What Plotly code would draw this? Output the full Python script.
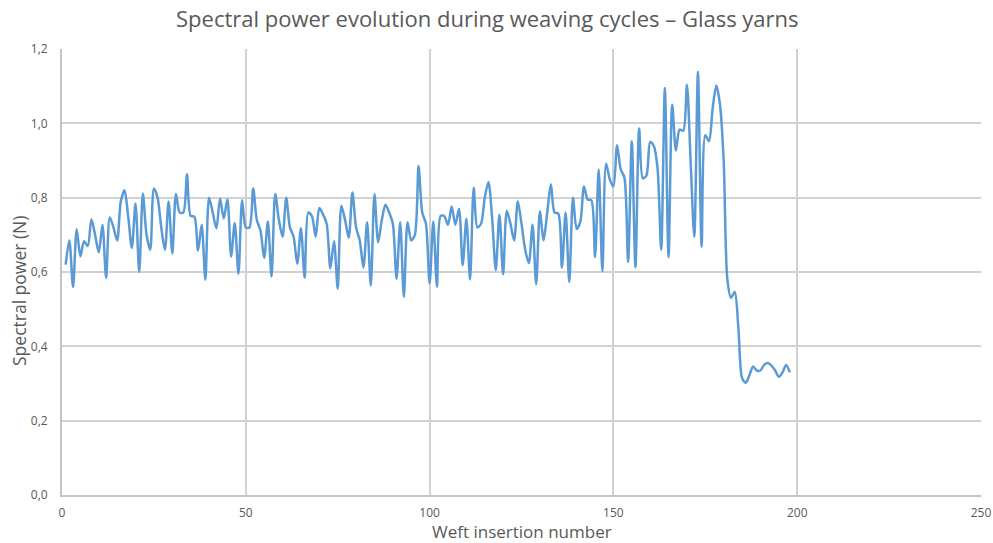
import plotly.graph_objects as go

x_values = list(range(1, 199))
spectral_power = [
    0.62, 0.685, 0.56, 0.715, 0.642, 0.683, 0.67, 0.742, 0.70, 0.653,
    0.727, 0.584, 0.747, 0.72, 0.685, 0.79, 0.82, 0.75, 0.665, 0.784,
    0.60, 0.811, 0.70, 0.66, 0.825, 0.80, 0.72, 0.66, 0.79, 0.65,
    0.81, 0.76, 0.76, 0.863, 0.751, 0.749, 0.658, 0.727, 0.579, 0.80,
    0.76, 0.718, 0.798, 0.744, 0.796, 0.642, 0.732, 0.595, 0.793, 0.72,
    0.72, 0.825, 0.74, 0.711, 0.638, 0.736, 0.588, 0.81, 0.74, 0.695,
    0.80, 0.72, 0.695, 0.622, 0.718, 0.585, 0.76, 0.75, 0.695, 0.772,
    0.755, 0.73, 0.61, 0.683, 0.555, 0.778, 0.74, 0.692, 0.814, 0.72,
    0.685, 0.612, 0.734, 0.564, 0.809, 0.68, 0.74, 0.781, 0.76, 0.73,
    0.582, 0.734, 0.533, 0.734, 0.685, 0.70, 0.885, 0.76, 0.73, 0.569,
    0.736, 0.56, 0.751, 0.75, 0.727, 0.776, 0.727, 0.77, 0.618, 0.743,
    0.58, 0.827, 0.72, 0.73, 0.80, 0.842, 0.747, 0.605, 0.754, 0.594,
    0.765, 0.73, 0.685, 0.79, 0.73, 0.66, 0.624, 0.727, 0.567, 0.763,
    0.685, 0.76, 0.836, 0.76, 0.757, 0.612, 0.76, 0.573, 0.80, 0.716,
    0.735, 0.83, 0.795, 0.793, 0.64, 0.876, 0.602, 0.891, 0.85, 0.83,
    0.941, 0.876, 0.854, 0.627, 0.952, 0.613, 0.986, 0.852, 0.86, 0.95,
    0.939, 0.88, 0.66, 1.095, 0.64, 1.05, 0.927, 0.983, 0.98, 1.104,
    0.90, 0.695, 1.139, 0.668, 0.968, 0.952, 1.04, 1.102, 1.05, 0.90,
    0.58, 0.531, 0.546, 0.45, 0.315, 0.302, 0.322, 0.346, 0.335, 0.335,
    0.35, 0.355, 0.348, 0.335, 0.318, 0.33, 0.35, 0.33,
]

x_ticks = [0, 50, 100, 150, 200, 250]
y_ticks = [0.0, 0.2, 0.4, 0.6, 0.8, 1.0, 1.2]
y_tick_labels = ["0,0", "0,2", "0,4", "0,6", "0,8", "1,0", "1,2"]

title_text = "Spectral power evolution during weaving cycles – Glass yarns"
x_title = "Weft insertion number"
y_title = "Spectral power (N)"

font_family = "Open Sans, Liberation Sans, sans-serif"
text_color = "#595959"
W, H = 993, 543

fig = go.Figure()
fig.add_trace(go.Scatter(
    x=x_values, y=spectral_power, mode="lines",
    line=dict(color="#5b9bd5", width=2.5, shape="spline", smoothing=0.8),
    showlegend=False,
))

fig.update_layout(
    width=W, height=H,
    margin=dict(l=62, r=12, t=49, b=48, autoexpand=False),
    paper_bgcolor="white", plot_bgcolor="white",
    font=dict(family=font_family, color=text_color),
    annotations=[
        dict(text=title_text, xref="paper", yref="paper",
             x=(487 - 62) / (981 - 62), y=1 + (49 - 18) / (495 - 49),
             xanchor="center", yanchor="middle", showarrow=False,
             font=dict(size=22, color=text_color)),
        dict(text=x_title, xref="paper", yref="paper",
             x=0.5, y=-(531 - 495) / (495 - 49),
             xanchor="center", yanchor="middle", showarrow=False,
             font=dict(size=17, color=text_color)),
        dict(text=y_title, xref="paper", yref="paper",
             x=-(62 - 19) / (981 - 62), y=0.5 - (291 - 272) / (495 - 49),
             xanchor="center", yanchor="middle", showarrow=False, textangle=-90,
             font=dict(size=17.5, color=text_color)),
    ],
)
fig.update_xaxes(
    range=[0, 250], tickvals=x_ticks, ticktext=[str(v) for v in x_ticks],
    showgrid=True, gridcolor="#d2d2d2", gridwidth=2,
    showline=True, linecolor="#c4c4c4", linewidth=2,
    zeroline=False, ticks="", tickfont=dict(size=12, color=text_color),
    ticklabelstandoff=6, automargin=False,
)
fig.update_yaxes(
    range=[0, 1.2], tickvals=y_ticks, ticktext=y_tick_labels,
    showgrid=True, gridcolor="#d2d2d2", gridwidth=2,
    showline=True, linecolor="#c4c4c4", linewidth=2,
    zeroline=False, ticks="", tickfont=dict(size=12, color=text_color),
    ticklabelstandoff=10, automargin=False,
)

fig.write_html(
    "out.html",
    config={"displayModeBar": False},
    post_script="document.body.style.margin='0';document.body.style.overflow='hidden';",
)
